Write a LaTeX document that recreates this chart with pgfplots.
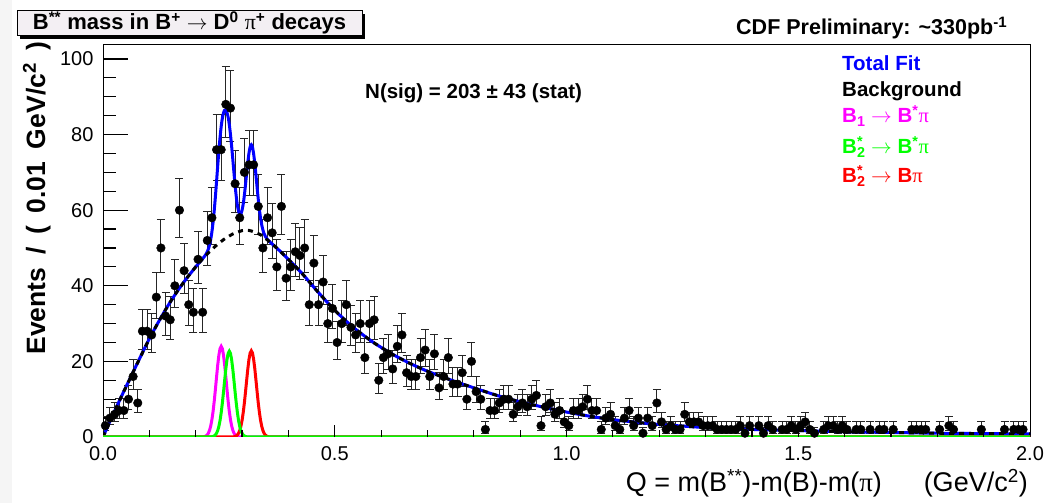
\documentclass[border=0pt]{standalone}
\usepackage{pgfplots}
\pgfplotsset{compat=1.18}
\usepackage{pgfplotstable}
\usepackage{fontspec}
\setmainfont{Liberation Sans}
\newfontfamily\greekfont{Liberation Serif}
\definecolor{rblue}{RGB}{0,0,255}
\definecolor{rmag}{RGB}{255,0,255}
\definecolor{rgreen}{RGB}{0,255,0}
\definecolor{rred}{RGB}{255,0,0}
\definecolor{titlefill}{RGB}{243,239,243}
\newcommand{\tickfont}{\fontsize{20}{22}\selectfont}
\newcommand{\txtfont}{\fontsize{20.5}{23}\selectfont\bfseries}
\newcommand{\labfont}{\fontsize{27}{29}\selectfont}
\newcommand{\gap}{\hspace{0.48em}}

\pgfplotstableread{
q y
0.005 3
0.015 5
0.025 6
0.035 7
0.045 7
0.055 10
0.065 16
0.075 9
0.085 28
0.095 28
0.105 27
0.115 37
0.125 50
0.135 32
0.145 31
0.155 40
0.165 60
0.175 44
0.185 35
0.195 33
0.205 47
0.215 33
0.225 52
0.235 58
0.245 76
0.255 76
0.265 88
0.275 87
0.285 67
0.295 58
0.305 70
0.315 72
0.325 72
0.335 61
0.345 50
0.355 58
0.365 54
0.375 45
0.385 61
0.395 42
0.405 45
0.415 49
0.425 48
0.435 50
0.445 35
0.455 46
0.465 35
0.475 41
0.485 30
0.495 34
0.505 25
0.515 30
0.525 35
0.535 29
0.545 27
0.555 30
0.565 21
0.575 30
0.585 31
0.595 15
0.605 21
0.615 22
0.625 18
0.635 24
0.645 27
0.655 17
0.665 16
0.675 16
0.685 21
0.695 23
0.705 16
0.715 22
0.725 13
0.735 16
0.745 21
0.755 14
0.765 14
0.775 17
0.785 10
0.795 20
0.805 12
0.815 10
0.825 2
0.835 7
0.845 7
0.855 9
0.865 10
0.875 10
0.885 6
0.895 8
0.905 9
0.915 8
0.925 10
0.935 11
0.945 3
0.955 8
0.965 9
0.975 6
0.985 7
0.995 4
1.005 3
1.015 7
1.025 7
1.035 8
1.045 10
1.055 7
1.065 7
1.075 2
1.085 5
1.095 6
1.105 3
1.115 2
1.125 5
1.135 7
1.145 3
1.155 5
1.165 1
1.175 5
1.185 3
1.195 9
1.205 4
1.215 2
1.225 3
1.235 2
1.245 2
1.255 6
1.265 4
1.275 4
1.285 4
1.295 3
1.305 3
1.315 3
1.325 2
1.335 2
1.345 2
1.355 2
1.365 2
1.375 3
1.385 1
1.395 3
1.415 3
1.425 1
1.435 3
1.445 2
1.465 2
1.475 2
1.485 3
1.495 2
1.505 3
1.515 4
1.525 2
1.535 1
1.555 2
1.565 3
1.575 3
1.585 2
1.595 3
1.605 2
1.625 2
1.635 2
1.655 2
1.675 2
1.685 2
1.705 2
1.745 2
1.755 2
1.765 2
1.775 2
1.805 2
1.825 3
1.835 2
1.895 2
1.945 2
1.965 2
1.975 2
1.985 2
}\datatab

\begin{document}
\begin{tikzpicture}[x=1pt,y=1pt]
\useasboundingbox (0,0) rectangle (1061,503);
\fill[white] (0,0) rectangle (1061,503);
\fill[gray!8] (0,0) rectangle (12,503);
\begin{axis}[
  at={(103pt,66pt)}, anchor=south west, scale only axis,
  width=927pt, height=392pt,
  xmin=0, xmax=2, ymin=0, ymax=103.7,
  axis line style={line width=1pt},
  xtick={0,0.5,1,1.5,2},
  ytick={0,20,40,60,80,100},
  xtick pos=bottom, ytick pos=left,
  major tick length=0pt, minor tick length=0pt,
  /pgf/number format/assume math mode=true,
  tick label style={font=\tickfont},
  xticklabel style={yshift=-6pt,/pgf/number format/fixed,/pgf/number format/fixed zerofill,/pgf/number format/precision=1},
  yticklabel style={xshift=-6pt,/pgf/number format/fixed},
]
\addplot[only marks, mark=*, mark size=4.3pt, black,
  error bars/.cd, y dir=both, y explicit,
  error bar style={line width=1pt, black!85},
  error mark options={rotate=90, line width=1pt, black!85, mark size=4pt}]
  table[x=q, y=y,
    y error plus expr={sqrt(\thisrow{y}+0.25)+0.5},
    y error minus expr={sqrt(\thisrow{y}+0.25)-0.5}] {\datatab};

% total fit
\addplot[rblue, line width=3pt, smooth, tension=0.4] coordinates {
(0,0) (0.01,2.8) (0.02,5.5) (0.04,10.8) (0.06,15.9) (0.08,21.0) (0.10,26.0) (0.12,30.5) (0.14,34.7) (0.16,38.5) (0.18,41.9) (0.20,45.0) (0.21,46.45) (0.215,47.16) (0.22,47.95) (0.2225,48.41) (0.225,49.01) (0.2275,49.79) (0.23,50.86) (0.2325,52.33) (0.235,54.30) (0.2375,56.82) (0.24,59.96) (0.2425,63.59) (0.245,67.61) (0.2475,71.73) (0.25,75.69) (0.2525,79.23) (0.255,82.13) (0.2575,84.31) (0.26,85.74) (0.2625,86.44) (0.265,86.47) (0.2675,85.85) (0.27,84.59) (0.2725,82.65) (0.275,80.07) (0.2775,76.96) (0.28,73.53) (0.2825,69.97) (0.285,66.57) (0.2875,63.63) (0.29,61.30) (0.2925,59.72) (0.295,58.95) (0.2975,59.03) (0.30,59.97) (0.3025,61.61) (0.305,63.94) (0.3075,66.77) (0.31,69.85) (0.3125,72.75) (0.315,75.16) (0.3175,76.77) (0.32,77.30) (0.3225,76.65) (0.325,74.91) (0.3275,72.35) (0.33,69.28) (0.3325,65.98) (0.335,62.85) (0.3375,60.11) (0.34,57.87) (0.3425,56.09) (0.345,54.77) (0.3475,53.83) (0.35,53.15) (0.3525,52.64) (0.355,52.24) (0.36,51.63) (0.37,50.5) (0.38,49.4) (0.40,47.0) (0.43,43.2) (0.46,38.9) (0.50,33.5) (0.54,29.0) (0.58,25.3) (0.62,22.2) (0.66,19.6) (0.70,17.4) (0.75,15.1) (0.80,13.0) (0.85,11.0) (0.90,9.3) (0.95,7.9) (1.00,6.6) (1.05,5.5) (1.10,4.6) (1.15,3.9) (1.20,3.3) (1.25,2.9) (1.30,2.5) (1.40,2.0) (1.50,1.7) (1.60,1.4) (1.70,1.2) (1.80,1.0) (1.90,0.9) (2.00,0.8)
};
% background
\addplot[black, line width=3pt, dash pattern=on 5pt off 5pt, smooth, tension=0.4] coordinates {
(0,0) (0.01,2.8) (0.02,5.5) (0.04,10.8) (0.06,15.9) (0.08,21.0) (0.10,26.0) (0.12,30.5) (0.14,34.7) (0.16,38.5) (0.18,41.9) (0.20,45.0) (0.22,47.8) (0.24,50.2) (0.26,52.2) (0.28,53.7) (0.30,54.6) (0.31,54.7) (0.32,54.5) (0.34,53.5) (0.36,51.6) (0.38,49.4) (0.40,47.0) (0.43,43.2) (0.46,38.9) (0.50,33.5) (0.54,29.0) (0.58,25.3) (0.62,22.2) (0.66,19.6) (0.70,17.4) (0.75,15.1) (0.80,13.0) (0.85,11.0) (0.90,9.3) (0.95,7.9) (1.00,6.6) (1.05,5.5) (1.10,4.6) (1.15,3.9) (1.20,3.3) (1.25,2.9) (1.30,2.5) (1.40,2.0) (1.50,1.7) (1.60,1.4) (1.70,1.2) (1.80,1.0) (1.90,0.9) (2.00,0.8)
};
% B1 -> B* pi
\addplot[rmag, line width=3pt] coordinates {
(0,0) (0.21,0) (0.215,0.03) (0.2175,0.07) (0.22,0.15) (0.2225,0.30) (0.225,0.58) (0.2275,1.05) (0.23,1.81) (0.2325,2.96) (0.235,4.60) (0.2375,6.77) (0.24,9.47) (0.2425,12.58) (0.245,15.88) (0.2475,19.02) (0.25,21.64) (0.2525,23.39) (0.255,24.0) (0.2575,23.39) (0.26,21.64) (0.2625,19.02) (0.265,15.88) (0.2675,12.58) (0.27,9.47) (0.2725,6.77) (0.275,4.60) (0.2775,2.96) (0.28,1.81) (0.2825,1.05) (0.285,0.58) (0.2875,0.30) (0.29,0.15) (0.2925,0.07) (0.295,0.03) (0.30,0) (2,0)
};
% B2* -> B pi
\addplot[rred, line width=3pt] coordinates {
(0,0) (0.275,0) (0.28,0.03) (0.2825,0.07) (0.285,0.14) (0.2875,0.29) (0.29,0.55) (0.2925,1.00) (0.295,1.72) (0.2975,2.81) (0.30,4.37) (0.3025,6.43) (0.305,9.00) (0.3075,11.95) (0.31,15.08) (0.3125,18.07) (0.315,20.56) (0.3175,22.22) (0.32,22.80) (0.3225,22.22) (0.325,20.56) (0.3275,18.07) (0.33,15.08) (0.3325,11.95) (0.335,9.00) (0.3375,6.43) (0.34,4.37) (0.3425,2.81) (0.345,1.72) (0.3475,1.00) (0.35,0.55) (0.3525,0.29) (0.355,0.14) (0.3575,0.07) (0.36,0.03) (0.365,0) (2,0)
};
% B2* -> B* pi
\addplot[rgreen, line width=3pt] coordinates {
(0,0) (0.2275,0) (0.2325,0.03) (0.235,0.07) (0.2375,0.14) (0.24,0.29) (0.2425,0.55) (0.245,1.00) (0.2475,1.72) (0.25,2.80) (0.2525,4.35) (0.255,6.40) (0.2575,8.96) (0.26,11.90) (0.2625,15.02) (0.265,17.99) (0.2675,20.47) (0.27,22.12) (0.2725,22.70) (0.275,22.12) (0.2775,20.47) (0.28,17.99) (0.2825,15.02) (0.285,11.90) (0.2875,8.96) (0.29,6.40) (0.2925,4.35) (0.295,2.80) (0.2975,1.72) (0.30,1.00) (0.3025,0.55) (0.305,0.29) (0.3075,0.14) (0.31,0.07) (0.3125,0.03) (0.3175,0) (2,0)
};
% anchor points of the tick marks, from the axis
\pgfplotsinvokeforeach{1,2,3,4,5,6,7,8,9,10,11,12,13,14,15,16,17,18,19}{
  \coordinate (xt#1) at (axis cs:#1/10,0);
}
\pgfplotsinvokeforeach{1,2,3,4,5,6,7,8,9,10,11,12,13,14,15,16,17,18,19,20}{
  \coordinate (yt#1) at (axis cs:0,#1*5);
}
\end{axis}

% tick marks (inside the frame, ROOT style)
\foreach \i in {1,...,19}{
  \pgfmathtruncatemacro{\m}{mod(\i,5)}
  \ifnum\m=0 \draw[line width=1.2pt, black] (xt\i) -- ++(0,12);
  \else \draw[line width=1.2pt, black] (xt\i) -- ++(0,7); \fi
}
\foreach \i in {1,...,20}{
  \pgfmathtruncatemacro{\m}{mod(\i,4)}
  \ifnum\m=0 \draw[line width=1.2pt, black] (yt\i) -- ++(25,0);
  \else \draw[line width=1.2pt, black] (yt\i) -- ++(13,0); \fi
}

% title box
\fill[black] (20,464) rectangle (365,489);
\filldraw[fill=titlefill, draw=black, line width=1pt] (17,467) rectangle (362,492);
\node[font=\fontsize{22}{24}\selectfont\bfseries, anchor=base] at (189.5,473) {B\textsuperscript{**} mass in B\textsuperscript{+} $\rightarrow$ D\textsuperscript{0} {\greekfont\mdseries π}\textsuperscript{+} decays};

% CDF label
\node[font=\fontsize{21.5}{23}\selectfont\bfseries, anchor=base west, inner sep=0pt] at (736,468) {CDF Preliminary: \textasciitilde330pb\textsuperscript{-1}};

% N(sig)
\node[font=\txtfont, anchor=base west, inner sep=0pt] at (365,404) {N(sig) = 203 ± 43 (stat)};

% legend
\node[font=\txtfont, anchor=base west, inner sep=0pt, text=rblue] at (842,432) {Total Fit};
\node[font=\txtfont, anchor=base west, inner sep=0pt, text=black] at (842,406) {Background};
\node[font=\txtfont, anchor=base west, inner sep=0pt, text=rmag] at (842,380) {B\textsubscript{1} $\rightarrow$ B\textsuperscript{*}{\greekfont\mdseries π}};
\node[font=\txtfont, anchor=base west, inner sep=0pt, text=rgreen] at (842,349) {B\rlap{\textsuperscript{*}}\textsubscript{2} $\rightarrow$ B\textsuperscript{*}{\greekfont\mdseries π}};
\node[font=\txtfont, anchor=base west, inner sep=0pt, text=rred] at (842,320) {B\rlap{\textsuperscript{*}}\textsubscript{2} $\rightarrow$ B{\greekfont\mdseries π}};

% axis titles
\node[font=\fontsize{26.5}{28}\selectfont\bfseries, rotate=90, anchor=base, inner sep=0pt] at (45,305) {Events\gap/\gap(\gap0.01\gap GeV/c\textsuperscript{2}\gap)};
\node[font=\labfont, anchor=base east, inner sep=0pt] at (1028,11) {Q = m(B\textsuperscript{**})-m(B)-m({\greekfont π})\hspace{1.55em}(GeV/c\textsuperscript{2})};
\end{tikzpicture}
\end{document}
